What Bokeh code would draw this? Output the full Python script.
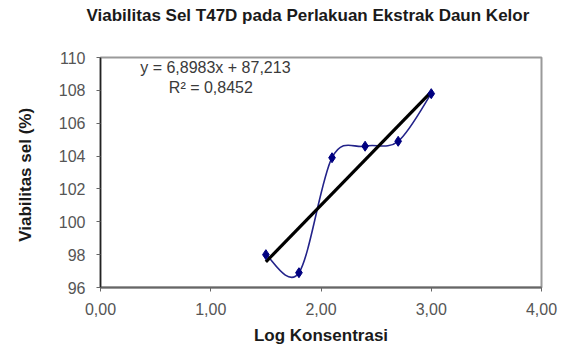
import numpy as np
from bokeh.plotting import figure
from bokeh.models import Range1d, FixedTicker, Label, Title
from bokeh.embed import file_html
from bokeh.resources import INLINE

# ---- data ----
log_konsentrasi = [1.5, 1.8, 2.1, 2.4, 2.7, 3.0]
viabilitas = [98.0, 96.9, 103.9, 104.6, 104.9, 107.8]

slope = 6.8983
intercept = 87.213
eq_text = "y = 6,8983x  + 87,213"
r2_text = "R\u00b2 = 0,8452"

x_ticks = [0, 1, 2, 3, 4]
x_tick_labels = ["0,00", "1,00", "2,00", "3,00", "4,00"]
y_ticks = [96, 98, 100, 102, 104, 106, 108, 110]

title_text = "Viabilitas  Sel T47D pada Perlakuan  Ekstrak Daun Kelor"
x_label = "Log Konsentrasi"
y_label = "Viabilitas  sel (%)"

FONT = "Liberation Sans"
TXT = "#3a3a3a"

p = figure(width=563, height=347, output_backend="svg", toolbar_location=None,
           x_range=Range1d(0, 4), y_range=Range1d(96, 110),
           min_border_left=100, min_border_right=22, min_border_top=57,
           min_border_bottom=59)

p.title.text = title_text
p.title.align = "left"
p.title.offset = -14
p.title.vertical_align = "top"
p.title.standoff = 10
p.title.text_font = FONT
p.title.text_font_size = "17px"
p.title.text_font_style = "bold"
p.title.text_color = "#1a1a1a"

# empty spacer panel between title and plot area
p.add_layout(Title(text=" ", text_font_size="1px", standoff=23), "above")

p.xgrid.visible = False
p.ygrid.visible = False
p.outline_line_color = "#9a9a9a"
p.outline_line_width = 2
p.background_fill_color = "white"
p.border_fill_color = "white"

# axes
p.xaxis.ticker = FixedTicker(ticks=x_ticks)
p.xaxis.major_label_overrides = {t: l for t, l in zip(x_ticks, x_tick_labels)}
p.yaxis.ticker = FixedTicker(ticks=y_ticks)
for ax in (p.xaxis, p.yaxis):
    ax.minor_tick_line_color = None
    ax.major_tick_in = 0
    ax.major_tick_out = 4
    ax.major_label_standoff = 11
    ax.major_label_text_font = FONT
    ax.major_label_text_font_size = "16px"
    ax.major_label_text_color = "#555555"
    ax.axis_label_text_font = FONT
    ax.axis_label_text_font_style = "bold"
    ax.axis_label_text_font_size = "17px"
    ax.axis_label_text_color = "#1a1a1a"
p.xaxis.axis_label = x_label
p.yaxis.axis_label = y_label
p.xaxis.axis_line_color = "#666666"
p.xaxis.axis_line_width = 2
p.xaxis.major_tick_line_color = "#666666"
p.yaxis.axis_line_color = "#222222"
p.yaxis.axis_line_width = 1.5
p.yaxis.major_tick_line_color = "#666666"
p.xaxis.axis_label_standoff = 8
p.yaxis.axis_label_standoff = 21

# smoothed series line (Bezier segments, Catmull-Rom style control points)
xs = np.array(log_konsentrasi)
ys = np.array(viabilitas)
xp = np.concatenate([[xs[0]], xs, [xs[-1]]])
yp = np.concatenate([[ys[0]], ys, [ys[-1]]])
n = len(xs)
x0 = xs[:-1]; y0 = ys[:-1]; x1 = xs[1:]; y1 = ys[1:]
cx0 = x0 + (xp[2:n + 1] - xp[0:n - 1]) / 6.0
cy0 = y0 + (yp[2:n + 1] - yp[0:n - 1]) / 6.0
cx1 = x1 - (xp[3:n + 2] - xp[1:n]) / 6.0
cy1 = y1 - (yp[3:n + 2] - yp[1:n]) / 6.0
p.bezier(x0=x0, y0=y0, x1=x1, y1=y1, cx0=cx0, cy0=cy0, cx1=cx1, cy1=cy1,
         line_color="#23238a", line_width=1.6)

# linear trendline
tx = np.array([min(log_konsentrasi), max(log_konsentrasi)])
p.line(tx, slope * tx + intercept, line_color="black", line_width=3.2)

# markers
p.scatter(log_konsentrasi, viabilitas, marker="diamond", size=10,
          fill_color="#000080", line_color="#000080")

# equation labels
p.add_layout(Label(x=0.36, y=109.39, text=eq_text, text_font=FONT, text_font_size="16px",
                   text_color=TXT, text_baseline="middle", text_align="left"))
p.add_layout(Label(x=0.62, y=108.18, text=r2_text, text_font=FONT, text_font_size="16px",
                   text_color=TXT, text_baseline="middle", text_align="left"))

open("out.html", "w").write(file_html(p, INLINE))
